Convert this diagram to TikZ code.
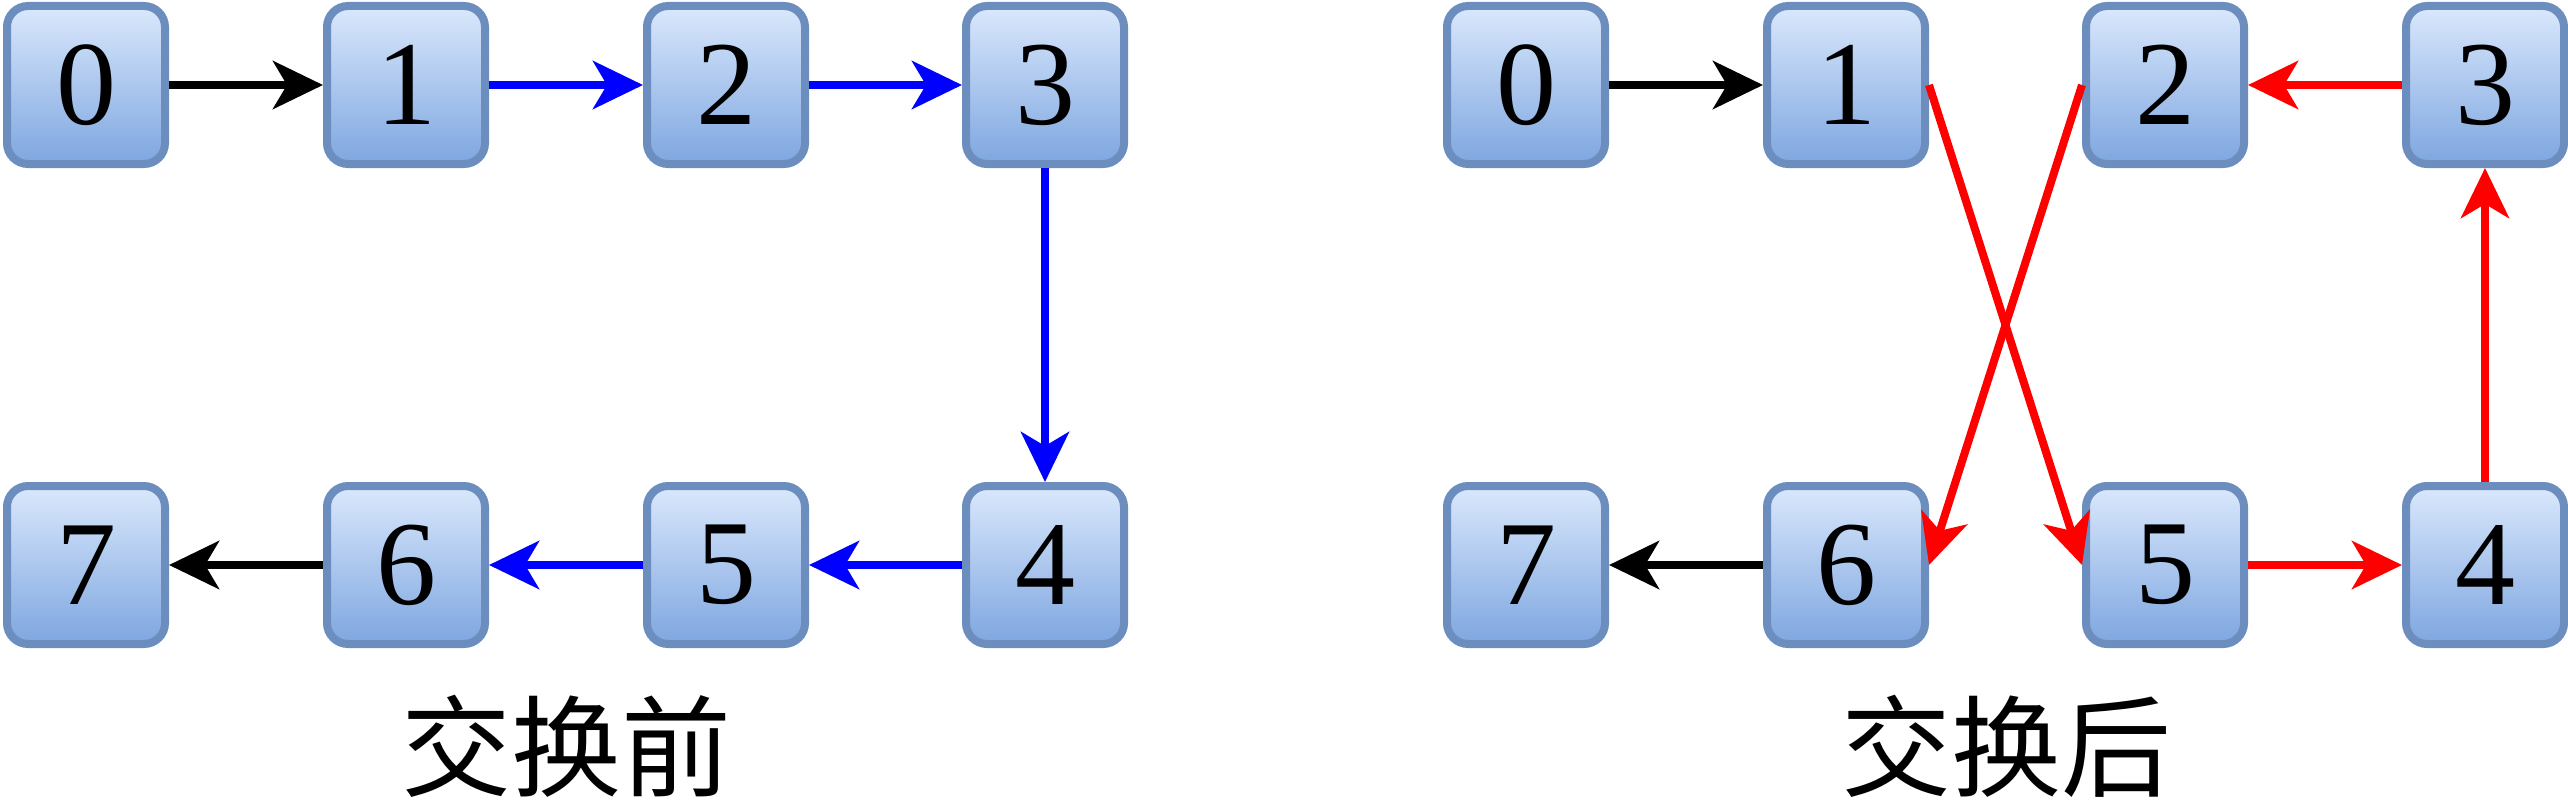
\documentclass[tikz,border=0pt]{standalone}
\usepackage{fontspec}
\setmainfont{Liberation Serif}
\newfontfamily\cjk{Noto Sans CJK SC}
\usetikzlibrary{arrows.meta}
\definecolor{boxtop}{HTML}{DAE8FC}
\definecolor{boxbot}{HTML}{7EA6E0}
\definecolor{boxline}{HTML}{6C8EBF}
\begin{document}
\begin{tikzpicture}[x=1pt,y=-1pt,
  cell/.style={draw=boxline, line width=8pt, rounded corners=21pt,
    top color=boxtop, bottom color=boxbot, minimum width=158pt, minimum height=158pt,
    inner sep=0pt, font=\fontsize{120}{130}\selectfont},
  link/.style={line width=8pt, -{Stealth[length=50pt,width=48pt,inset=14pt]}},
  titletext/.style={font=\cjk\fontsize{110}{120}\selectfont, inner sep=0pt}]
\useasboundingbox (0,0) rectangle (2568,808);
% before
\node[cell] (a0) at (86,85) {0};
\node[cell] (a1) at (406,85) {1};
\node[cell] (a2) at (726,85) {2};
\node[cell] (a3) at (1045,85) {3};
\node[cell] (a4) at (1045,565) {4};
\node[cell] (a5) at (726,565) {5};
\node[cell] (a6) at (406,565) {6};
\node[cell] (a7) at (86,565) {7};
\draw[link, black] (a0) -- (a1);
\draw[link, blue] (a1) -- (a2);
\draw[link, blue] (a2) -- (a3);
\draw[link, blue] (a3) -- (a4);
\draw[link, blue] (a4) -- (a5);
\draw[link, blue] (a5) -- (a6);
\draw[link, black] (a6) -- (a7);
\node[titletext] (ta) at (566,746) {交换前};
% after
\node[cell] (b0) at (1526,85) {0};
\node[cell] (b1) at (1846,85) {1};
\node[cell] (b2) at (2165,85) {2};
\node[cell] (b3) at (2485,85) {3};
\node[cell] (b4) at (2485,565) {4};
\node[cell] (b5) at (2165,565) {5};
\node[cell] (b6) at (1846,565) {6};
\node[cell] (b7) at (1526,565) {7};
\draw[link, black] (b0) -- (b1);
\draw[link, red] (b1.east) -- (b5.west);
\draw[link, red] (b2.west) -- (b6.east);
\draw[link, red] (b3) -- (b2);
\draw[link, red] (b4) -- (b3);
\draw[link, red] (b5) -- (b4);
\draw[link, black] (b6) -- (b7);
\node[titletext] (tb) at (2006,746) {交换后};
\end{tikzpicture}
\end{document}
